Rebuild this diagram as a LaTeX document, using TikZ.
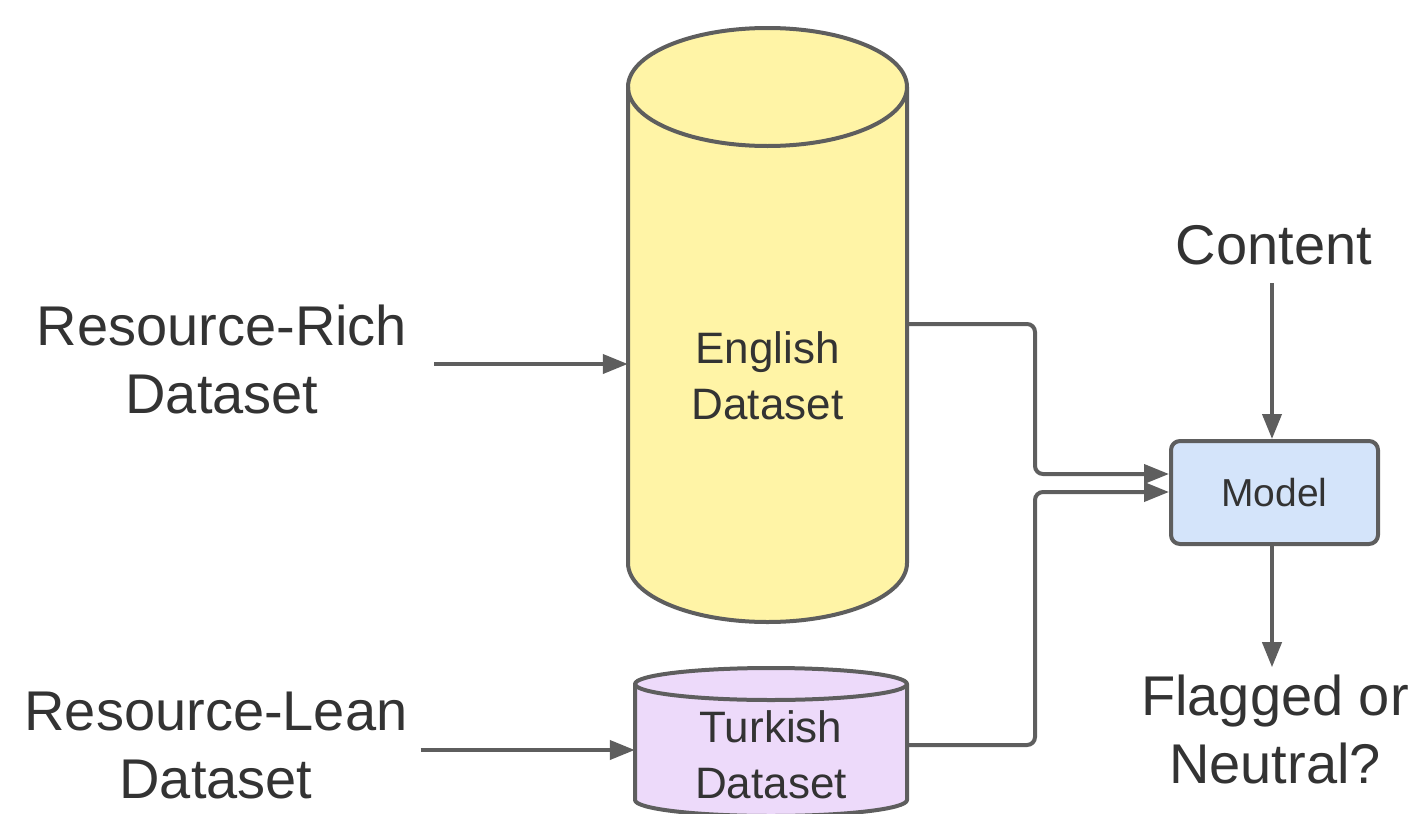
\documentclass[tikz,border=0pt]{standalone}
\usepackage{fontspec}
\setmainfont{Liberation Sans}
\usetikzlibrary{arrows.meta,calc}
\definecolor{linec}{HTML}{5E5E5E}
\definecolor{txtc}{HTML}{333333}
\definecolor{yellowf}{HTML}{FFF4A6}
\definecolor{purplef}{HTML}{EDDAFA}
\definecolor{bluef}{HTML}{D4E4FA}
\tikzset{
  big/.style={font=\fontsize{56}{68}\selectfont, text=txtc, align=center, inner sep=0pt},
  mid/.style={font=\fontsize{44}{56}\selectfont, text=txtc, align=center, inner sep=0pt},
  outl/.style={draw=linec, line width=4pt, line join=round},
  conn/.style={draw=linec, line width=4pt, rounded corners=8pt, -{Triangle[length=25pt,width=19pt]}},
  body/.style={inner sep=0pt, minimum width=#1, draw=none}
}
\begin{document}
\begin{tikzpicture}[x=1pt,y=1pt]
\useasboundingbox (0,0) rectangle (1417,-814);
\clip (0,0) rectangle (1417,-814);
% English cylinder
\filldraw[outl, fill=yellowf] (628,-87) -- (628,-563) arc[start angle=180,end angle=360,x radius=139.5,y radius=59] -- (907,-87) arc[start angle=0,end angle=180,x radius=139.5,y radius=59] -- cycle;
\draw[outl] (628,-87) arc[start angle=180,end angle=360,x radius=139.5,y radius=59];
\node[body=279pt, minimum height=476pt] (eng) at (767.5,-325) {};
\node[mid] (engt) at (767.5,-376) {English\\Dataset};
% Turkish cylinder
\filldraw[outl, fill=purplef] (635,-684) -- (635,-800) arc[start angle=180,end angle=360,x radius=136,y radius=16] -- (907,-684) arc[start angle=0,end angle=180,x radius=136,y radius=16] -- cycle;
\draw[outl] (635,-684) arc[start angle=180,end angle=360,x radius=136,y radius=16];
\node[body=272pt, minimum height=116pt] (tur) at (771,-742) {};
\node[mid] (turt) at (771,-755) {Turkish\\Dataset};
% Model
\node[outl, fill=bluef, rounded corners=9pt, minimum width=207pt, minimum height=103pt, inner sep=0pt,
      font=\fontsize{39}{46}\selectfont, text=txtc] (model) at (1274.5,-492.5) {Model};
% Texts
\node[big] (rich) at (222,-359) {Resource-Rich\\Dataset};
\node[big] (lean) at (216,-746) {Resource-Lean\\Dataset};
\node[big] (content) at (1274,-245) {Content};
\node[big] (flag) at (1275,-729) {Flagged or\\Neutral?};
% Connectors
\draw[conn] ($(rich.east |- 0,-364)+(27,0)$) -- (eng.west |- 0,-364);
\draw[conn] ($(lean.east |- 0,-750)+(13,0)$) -- (tur.west |- 0,-750);
\draw[conn] (eng.east |- 0,-324) -- (1035,-324) -- (1035,-474) -- (model.west |- 0,-474);
\draw[conn] (tur.east |- 0,-745) -- (1035,-745) -- (1035,-492) -- (model.west |- 0,-492);
\draw[conn] (content.south -| 1272,0) ++(0,-18) -- (model.north -| 1272,0);
\draw[conn] (model.south -| 1272,0) -- ($(flag.north -| 1272,0)+(0,7)$);
\end{tikzpicture}
\end{document}
